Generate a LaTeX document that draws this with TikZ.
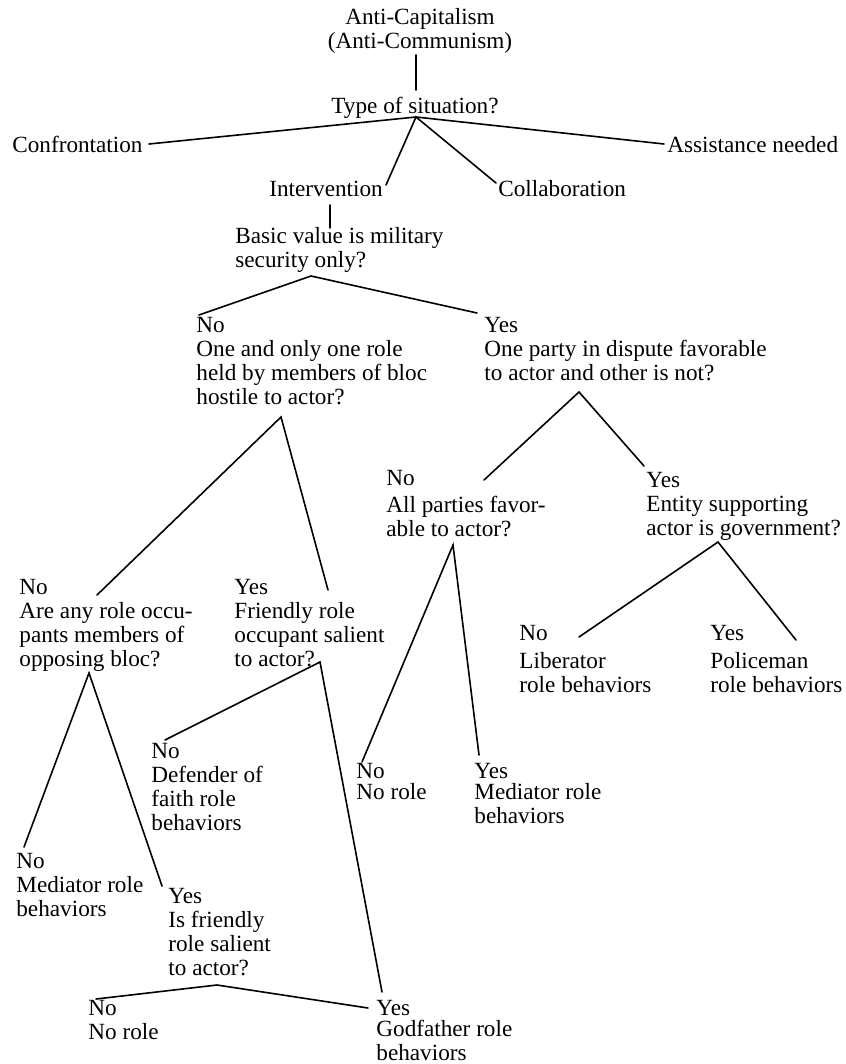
\documentclass[tikz,border=0pt]{standalone}
\usepackage{fontspec}
\setmainfont{Liberation Serif}
\begin{document}
\begin{tikzpicture}[x=0.5pt,y=-0.5pt,
  lbl/.style={anchor=north west, yshift=8.4pt, align=left, inner sep=0pt,
    font=\fontsize{11.6}{12}\selectfont, execute at begin node=\strut},
  clbl/.style={anchor=north, yshift=8.4pt, align=center, inner sep=0pt,
    font=\fontsize{11.6}{12}\selectfont, execute at begin node=\strut},
  conn/.style={line width=0.8pt, line cap=round}]
\useasboundingbox (0,0) rectangle (845,1064);
% texts (coordinates give the baseline of the first line)
\node[clbl] (title) at (420,25) {Anti-Capitalism\\(Anti-Communism)};
\node[clbl] (tos) at (415,113) {Type of situation?};
\node[lbl] (conf) at (12,152) {Confrontation};
\node[lbl] (assist) at (667,152) {Assistance needed};
\node[lbl] (interv) at (269,196) {Intervention};
\node[lbl] (collab) at (498,196) {Collaboration};
\node[lbl] (basic) at (235,244) {Basic value is military\\security only?};
\node[lbl] (noA) at (196,334) {No\\One and only one role\\held by members of bloc\\hostile to actor?};
\node[lbl] (yesA) at (484,334) {Yes\\One party in dispute favorable\\to actor and other is not?};
\node[lbl] (noB) at (386,487) {No\\[1.5pt]All parties favor-\\able to actor?};
\node[lbl] (yesB) at (646,489) {Yes\\Entity supporting\\actor is government?};
\node[lbl] (noC) at (19,596) {No\\Are any role occu-\\pants members of\\opposing bloc?};
\node[lbl] (yesC) at (234,596) {Yes\\Friendly role\\occupant salient\\to actor?};
\node[lbl] (noE) at (519,642) {No\\[2pt]Liberator\\role behaviors};
\node[lbl] (yesE) at (710,642) {Yes\\[2pt]Policeman\\role behaviors};
\node[lbl] (noD) at (151,760) {No\\Defender of\\faith role\\behaviors};
\node[lbl] (noF) at (356,780) {No\\[-1.5pt]No role};
\node[lbl] (yesF) at (474,780) {Yes\\[-1.5pt]Mediator role\\behaviors};
\node[lbl] (noG) at (16,870) {No\\Mediator role\\behaviors};
\node[lbl] (yesG) at (168,905) {Yes\\Is friendly\\role salient\\to actor?};
\node[lbl] (noH) at (88,1017) {No\\No role};
\node[lbl] (yesH) at (376,1017) {Yes\\[-1.5pt]Godfather role\\behaviors};
% coordinates
\coordinate (t0) at (416,55);
\coordinate (t1) at (416,90);
\coordinate (a1) at (416,117);
\coordinate (e1) at (149,144);
\coordinate (e2) at (664,144);
\coordinate (e3) at (386,185);
\coordinate (e4) at (496,183);
\coordinate (i0) at (330,205);
\coordinate (i1) at (330,228);
\coordinate (a2) at (311,276);
\coordinate (e5) at (199,315);
\coordinate (e6) at (477,313);
\coordinate (a3) at (281,417);
\coordinate (e7) at (97,595);
\coordinate (e8) at (328,590);
\coordinate (a4) at (579,392);
\coordinate (e9) at (484,480);
\coordinate (e10) at (644,466);
\coordinate (a5) at (453,545);
\coordinate (e11) at (362,762);
\coordinate (e12) at (479,755);
\coordinate (a6) at (718,542);
\coordinate (e13) at (579,637);
\coordinate (e14) at (796,640);
\coordinate (a7) at (89,673);
\coordinate (e15) at (24,847);
\coordinate (e16) at (162,886);
\coordinate (a8) at (320,662);
\coordinate (e17) at (165,740);
\coordinate (e18) at (382,992);
\coordinate (a9) at (217,985);
\coordinate (e19) at (96,999);
\coordinate (e20) at (368,1008);
% connectors
\draw[conn] (t0) -- (t1);
\draw[conn] (e1) -- (a1) -- (e2);
\draw[conn] (e3) -- (a1) -- (e4);
\draw[conn] (i0) -- (i1);
\draw[conn] (e5) -- (a2) -- (e6);
\draw[conn] (e7) -- (a3) -- (e8);
\draw[conn] (e9) -- (a4) -- (e10);
\draw[conn] (e11) -- (a5) -- (e12);
\draw[conn] (e13) -- (a6) -- (e14);
\draw[conn] (e15) -- (a7) -- (e16);
\draw[conn] (e17) -- (a8) -- (e18);
\draw[conn] (e19) -- (a9) -- (e20);
\end{tikzpicture}
\end{document}
